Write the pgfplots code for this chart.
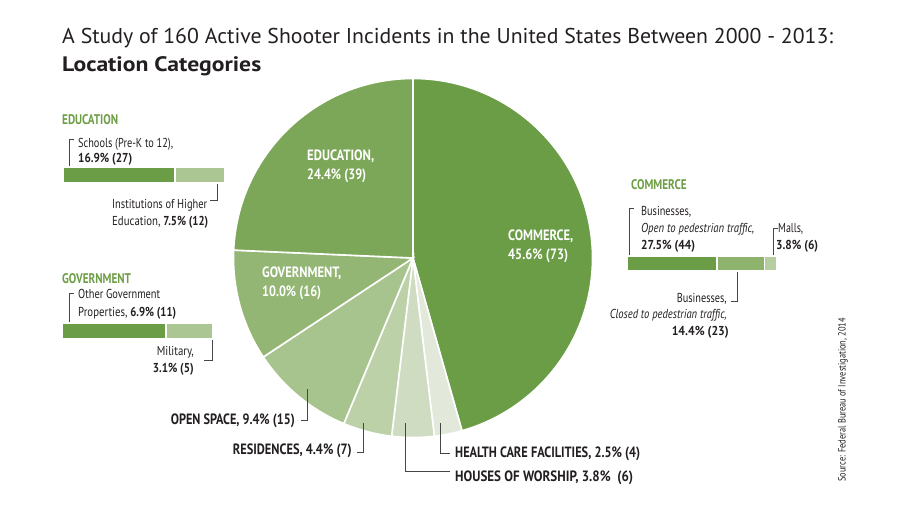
\documentclass[border=0pt]{standalone}
\usepackage{pgfplots}
\pgfplotsset{compat=1.18}
\usepackage{graphicx}
\usepackage{fontspec}
\setmainfont{PT Sans}
\newfontfamily\cnd[FakeStretch=0.80]{PT Sans}

\definecolor{ccom}{RGB}{106,157,69}
\definecolor{cedu}{RGB}{125,167,88}
\definecolor{cgov}{RGB}{147,182,116}
\definecolor{copen}{RGB}{168,196,142}
\definecolor{cres}{RGB}{189,209,169}
\definecolor{chouse}{RGB}{207,220,193}
\definecolor{chealth}{RGB}{226,233,218}
\definecolor{cmid}{RGB}{141,179,108}
\definecolor{clight}{RGB}{172,198,147}
\definecolor{clighter}{RGB}{182,205,160}
\definecolor{head}{RGB}{110,158,70}
\definecolor{ink}{RGB}{35,31,32}
\definecolor{lead}{RGB}{70,70,70}

\newcommand{\lbl}{\cnd\fontsize{13}{15}\selectfont}
\newcommand{\catlbl}{\cnd\bfseries\fontsize{15}{17}\selectfont}
% set a line to the width it has in the reference
\newcommand{\fit}[2]{\resizebox{#1bp}{\height}{#2}}

\begin{document}
\begin{tikzpicture}
\useasboundingbox (0,0) rectangle (900bp,509bp);

% main canvas axis: one unit = one pixel of the reference, y measured downward
\begin{axis}[
    x=1bp, y=1bp,
    xmin=0, xmax=900, ymin=0, ymax=509,
    y dir=reverse,
    at={(0,0)}, anchor=south west,
    hide axis, clip=false,
]
  % pie, clockwise from 12 o'clock; shares in percent
  \def\R{179.5bp}
  \fill[ccom, draw=white, line width=1.6bp] (axis cs:413,258) -- ++(90:\R)
    arc[start angle=90, end angle={90-3.6*45.6}, radius=\R] -- cycle;
  \fill[chealth, draw=white, line width=1.6bp] (axis cs:413,258) -- ++({90-3.6*45.6}:\R)
    arc[start angle={90-3.6*45.6}, end angle={90-3.6*48.1}, radius=\R] -- cycle;
  \fill[chouse, draw=white, line width=1.6bp] (axis cs:413,258) -- ++({90-3.6*48.1}:\R)
    arc[start angle={90-3.6*48.1}, end angle={90-3.6*51.9}, radius=\R] -- cycle;
  \fill[cres, draw=white, line width=1.6bp] (axis cs:413,258) -- ++({90-3.6*51.9}:\R)
    arc[start angle={90-3.6*51.9}, end angle={90-3.6*56.3}, radius=\R] -- cycle;
  \fill[copen, draw=white, line width=1.6bp] (axis cs:413,258) -- ++({90-3.6*56.3}:\R)
    arc[start angle={90-3.6*56.3}, end angle={90-3.6*65.7}, radius=\R] -- cycle;
  \fill[cgov, draw=white, line width=1.6bp] (axis cs:413,258) -- ++({90-3.6*65.7}:\R)
    arc[start angle={90-3.6*65.7}, end angle={90-3.6*75.7}, radius=\R] -- cycle;
  \fill[cedu, draw=white, line width=1.6bp] (axis cs:413,258) -- ++({90-3.6*75.7}:\R)
    arc[start angle={90-3.6*75.7}, end angle={90-3.6*100}, radius=\R] -- cycle;

  % title
  \node[anchor=base west, inner sep=0, text=ink] at (axis cs:62,43)
    {\fit{771}{\fontsize{21.5}{24}\selectfont A Study of 160 Active Shooter Incidents in the United States Between 2000 - 2013:}};
  \node[anchor=base west, inner sep=0, text=ink] at (axis cs:62,71)
    {\fit{199}{\bfseries\fontsize{21}{24}\selectfont Location Categories}};

  % labels inside the pie
  \node[anchor=base west, inner sep=0, text=white] at (axis cs:307,160) {\fit{67}{\catlbl EDUCATION,}};
  \node[anchor=base west, inner sep=0, text=white] at (axis cs:307,179) {\fit{59}{\catlbl 24.4\% (39)}};
  \node[anchor=base west, inner sep=0, text=white] at (axis cs:508,240) {\fit{65}{\catlbl COMMERCE,}};
  \node[anchor=base west, inner sep=0, text=white] at (axis cs:508,259) {\fit{60}{\catlbl 45.6\% (73)}};
  \node[anchor=base west, inner sep=0, text=white] at (axis cs:262,277) {\fit{79}{\catlbl GOVERNMENT,}};
  \node[anchor=base west, inner sep=0, text=white] at (axis cs:262,296) {\fit{59}{\catlbl 10.0\% (16)}};

  % labels below the pie
  \node[anchor=base east, inner sep=0, text=ink] at (axis cs:295,424) {\fit{124}{\catlbl OPEN SPACE, 9.4\% (15)}};
  \node[anchor=base east, inner sep=0, text=ink] at (axis cs:352,454) {\fit{119}{\catlbl RESIDENCES, 4.4\% (7)}};
  \node[anchor=base west, inner sep=0, text=ink] at (axis cs:455,457) {\fit{185}{\catlbl HEALTH CARE FACILITIES, 2.5\% (4)}};
  \node[anchor=base west, inner sep=0, text=ink] at (axis cs:455,481) {\fit{178}{\catlbl HOUSES OF WORSHIP, 3.8\%\ \ (6)}};

  % leader lines
  \draw[lead, line width=0.9bp] (axis cs:307,389) -- (axis cs:307,420) -- (axis cs:301,420);
  \draw[lead, line width=0.9bp] (axis cs:363,423) -- (axis cs:363,452) -- (axis cs:357,452);
  \draw[lead, line width=0.9bp] (axis cs:405,423) -- (axis cs:405,471) -- (axis cs:450,471);
  \draw[lead, line width=0.9bp] (axis cs:440,423) -- (axis cs:440,453) -- (axis cs:450,453);

  % education breakdown
  \node[anchor=base west, inner sep=0, text=head] at (axis cs:62,124) {\cnd\bfseries\fontsize{14}{16}\selectfont EDUCATION};
  \node[anchor=base west, inner sep=0, text=ink] at (axis cs:78,147) {\fit{95}{\lbl Schools (Pre-K to 12),}};
  \node[anchor=base west, inner sep=0, text=ink] at (axis cs:78,162) {\fit{54}{\lbl\bfseries 16.9\% (27)}};
  \draw[lead, line width=0.9bp] (axis cs:74,139) -- (axis cs:69.5,139) -- (axis cs:69.5,175);
  \node[anchor=base west, inner sep=0, text=ink] at (axis cs:112,208) {\fit{95}{\lbl Institutions of Higher}};
  \node[anchor=base west, inner sep=0, text=ink] at (axis cs:112,225) {\fit{96}{\lbl Education, \textbf{7.5\% (12)}}};
  \draw[lead, line width=0.9bp] (axis cs:217,175) -- (axis cs:217,200) -- (axis cs:210,200);

  % government breakdown
  \node[anchor=base west, inner sep=0, text=head] at (axis cs:62,283) {\cnd\bfseries\fontsize{14}{16}\selectfont GOVERNMENT};
  \node[anchor=base west, inner sep=0, text=ink] at (axis cs:78,298) {\fit{82}{\lbl Other Government}};
  \node[anchor=base west, inner sep=0, text=ink] at (axis cs:78,316) {\fit{98}{\lbl Properties, \textbf{6.9\% (11)}}};
  \draw[lead, line width=0.9bp] (axis cs:74,293) -- (axis cs:69.5,293) -- (axis cs:69.5,330);
  \node[anchor=base east, inner sep=0, text=ink] at (axis cs:194,355) {\fit{37}{\lbl Military,}};
  \node[anchor=base east, inner sep=0, text=ink] at (axis cs:194,372) {\fit{41}{\lbl\bfseries 3.1\% (5)}};
  \draw[lead, line width=0.9bp] (axis cs:212,332) -- (axis cs:212,360) -- (axis cs:204,360);

  % commerce breakdown
  \node[anchor=base west, inner sep=0, text=head] at (axis cs:631,189) {\cnd\bfseries\fontsize{14}{16}\selectfont COMMERCE};
  \node[anchor=base west, inner sep=0, text=ink] at (axis cs:641,215) {\fit{50}{\lbl Businesses,}};
  \node[anchor=base west, inner sep=0, text=ink] at (axis cs:641,232) {\fit{113}{\lbl\itshape Open to pedestrian traffic,}};
  \node[anchor=base west, inner sep=0, text=ink] at (axis cs:641,249) {\fit{54}{\lbl\bfseries 27.5\% (44)}};
  \draw[lead, line width=0.9bp] (axis cs:634,208) -- (axis cs:629.5,208) -- (axis cs:629.5,263);
  \node[anchor=base west, inner sep=0, text=ink] at (axis cs:778,232) {\fit{25}{\lbl Malls,}};
  \node[anchor=base west, inner sep=0, text=ink] at (axis cs:776,249) {\fit{42}{\lbl\bfseries 3.8\% (6)}};
  \draw[lead, line width=0.9bp] (axis cs:778,228) -- (axis cs:773.5,228) -- (axis cs:773.5,263);
  \node[anchor=base east, inner sep=0, text=ink] at (axis cs:727,302) {\fit{50}{\lbl Businesses,}};
  \node[anchor=base east, inner sep=0, text=ink] at (axis cs:727,318) {\fit{117}{\lbl\itshape Closed to pedestrian traffic,}};
  \node[anchor=base east, inner sep=0, text=ink] at (axis cs:729,335) {\fit{57}{\lbl\bfseries 14.4\% (23)}};
  \draw[lead, line width=0.9bp] (axis cs:737,267) -- (axis cs:737,301) -- (axis cs:731,301);

  % source
  \node[rotate=90, inner sep=0, text=ink] at (axis cs:843,400) {\cnd\fontsize{10.5}{12}\selectfont Source: Federal Bureau of Investigation, 2014};
\end{axis}

% stacked bars (percent of all incidents)
\begin{axis}[
    at={(63bp,326bp)}, anchor=south west,
    width=162bp, height=16bp, scale only axis, hide axis,
    xbar stacked, bar width=16bp,
    xmin=0, xmax=24.4, ymin=-0.5, ymax=0.5, enlargelimits=false, clip=false,
]
  \addplot[fill=ccom, draw=white, line width=1.6bp] coordinates {(16.9,0)};
  \addplot[fill=clight, draw=white, line width=1.6bp] coordinates {(7.5,0)};
\end{axis}

\begin{axis}[
    at={(62bp,170bp)}, anchor=south west,
    width=151bp, height=16bp, scale only axis, hide axis,
    xbar stacked, bar width=16bp,
    xmin=0, xmax=10.0, ymin=-0.5, ymax=0.5, enlargelimits=false, clip=false,
]
  \addplot[fill=ccom, draw=white, line width=1.6bp] coordinates {(6.9,0)};
  \addplot[fill=clight, draw=white, line width=1.6bp] coordinates {(3.1,0)};
\end{axis}

\begin{axis}[
    at={(627bp,238bp)}, anchor=south west,
    width=150bp, height=15bp, scale only axis, hide axis,
    xbar stacked, bar width=15bp,
    xmin=0, xmax=45.7, ymin=-0.5, ymax=0.5, enlargelimits=false, clip=false,
]
  \addplot[fill=ccom, draw=white, line width=1.6bp] coordinates {(27.5,0)};
  \addplot[fill=cmid, draw=white, line width=1.6bp] coordinates {(14.4,0)};
  \addplot[fill=clighter, draw=white, line width=1.6bp] coordinates {(3.8,0)};
\end{axis}
\end{tikzpicture}
\end{document}
